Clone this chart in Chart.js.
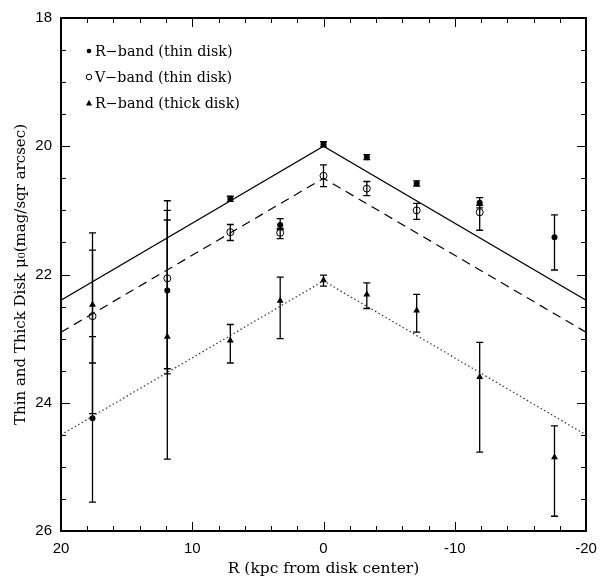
<!DOCTYPE html>
<html>
<head>
<meta charset="utf-8">
<script src="https://cdn.jsdelivr.net/npm/chart.js@4/dist/chart.umd.min.js"></script>
<style>
  body { margin: 0; background: #fff; }
  #wrap { width: 608px; height: 582px; }
</style>
</head>
<body>
<div id="wrap"><canvas id="myChart" width="608" height="582"></canvas></div>
<script>
// radius along the disk (kpc), same positions for every band
var radius = [17.6, 11.9, 7.1, 3.3, 0, -3.3, -7.1, -11.9, -17.6];

// R-band thin disk: value, lower and upper end of error bar
var rThin   = [24.24, 22.25, 20.82, 21.23, 19.97, 20.17, 20.58, 20.88, 21.42];
var rThinLo = [22.97, 21.00, 20.78, 21.13, 19.93, 20.13, 20.54, 20.80, 21.07];
var rThinHi = [25.55, 23.55, 20.86, 21.30, 20.01, 20.21, 20.62, 20.96, 21.93];

// V-band thin disk (no point at -17.6)
var vThin   = [22.65, 22.06, 21.34, 21.35, 20.46, 20.66, 21.00, 21.03, null];
var vThinLo = [21.62, 20.85, 21.22, 21.28, 20.29, 20.55, 20.89, 20.92, null];
var vThinHi = [24.17, 23.47, 21.47, 21.44, 20.63, 20.77, 21.14, 21.31, null];

// R-band thick disk
var rThick   = [22.47, 22.97, 23.03, 22.41, 22.09, 22.31, 22.56, 23.60, 24.85];
var rThickLo = [21.35, 21.15, 22.78, 22.04, 22.01, 22.13, 22.31, 23.06, 24.36];
var rThickHi = [23.38, 24.88, 23.38, 23.00, 22.18, 22.53, 22.90, 24.77, 25.77];

// model profiles: edge, center, edge
var modelR     = [20, 0, -20];
var modelRThin = [22.4, 20.0, 22.4];
var modelVThin = [22.9, 20.5, 22.9];
var modelThick = [24.5, 22.1, 24.5];

var legendLabels = ['R\u2212band (thin disk)', 'V\u2212band (thin disk)', 'R\u2212band (thick disk)'];

function pts(xs, ys) {
  var out = [];
  for (var i = 0; i < xs.length; i++) {
    if (ys[i] !== null) out.push({x: xs[i], y: ys[i]});
  }
  return out;
}

// error bars for the three point sets
var errorSets = [
  {lo: rThinLo, hi: rThinHi},
  {lo: vThinLo, hi: vThinHi},
  {lo: rThickLo, hi: rThickHi}
];

const errorBars = {
  id: 'errorBars',
  beforeDatasetsDraw(chart) {
    const ctx = chart.ctx;
    const xs = chart.scales.x, ys = chart.scales.y;
    ctx.save();
    ctx.strokeStyle = '#000';
    ctx.lineWidth = 1.3;
    errorSets.forEach(function(set) {
      for (var i = 0; i < radius.length; i++) {
        if (set.lo[i] === null) continue;
        var px = xs.getPixelForValue(radius[i]);
        var y1 = ys.getPixelForValue(set.lo[i]);
        var y2 = ys.getPixelForValue(set.hi[i]);
        ctx.beginPath();
        ctx.moveTo(px, y1); ctx.lineTo(px, y2);
        ctx.moveTo(px - 3.5, y1); ctx.lineTo(px + 3.5, y1);
        ctx.moveTo(px - 3.5, y2); ctx.lineTo(px + 3.5, y2);
        ctx.stroke();
      }
    });
    ctx.restore();
  }
};

// inward ticks on all four sides plus the frame
const frameTicks = {
  id: 'frameTicks',
  afterDraw(chart) {
    const ctx = chart.ctx;
    const a = chart.chartArea;
    const xs = chart.scales.x, ys = chart.scales.y;
    ctx.save();
    ctx.strokeStyle = '#000';
    ctx.lineWidth = 1;
    ctx.beginPath();
    for (var v = -20; v <= 20; v += 2) {
      var px = Math.round(xs.getPixelForValue(v)) + 0.5;
      var len = (v % 10 === 0) ? 9 : 5;
      ctx.moveTo(px, a.bottom); ctx.lineTo(px, a.bottom - len);
      ctx.moveTo(px, a.top); ctx.lineTo(px, a.top + len);
    }
    for (var w = 18; w <= 26; w += 0.5) {
      var py = Math.round(ys.getPixelForValue(w)) + 0.5;
      var l2 = (w % 2 === 0) ? 9 : 5;
      ctx.moveTo(a.left, py); ctx.lineTo(a.left + l2, py);
      ctx.moveTo(a.right, py); ctx.lineTo(a.right - l2, py);
    }
    ctx.stroke();
    ctx.lineWidth = 2;
    ctx.strokeRect(a.left, a.top, a.right - a.left, a.bottom - a.top);
    ctx.restore();
  }
};

// legend in the upper left corner of the plot
const cornerLegend = {
  id: 'cornerLegend',
  afterDraw(chart) {
    const ctx = chart.ctx;
    const a = chart.chartArea;
    ctx.save();
    ctx.fillStyle = '#000';
    ctx.strokeStyle = '#000';
    ctx.font = '14.3px "DejaVu Serif"';
    ctx.textBaseline = 'middle';
    for (var i = 0; i < legendLabels.length; i++) {
      var cy = a.top + 33 + i * 26;
      var cx = a.left + 28;
      ctx.beginPath();
      if (i === 0) {
        ctx.arc(cx, cy, 2.3, 0, Math.PI * 2); ctx.fill();
      } else if (i === 1) {
        ctx.lineWidth = 1;
        ctx.arc(cx, cy, 2.8, 0, Math.PI * 2); ctx.stroke();
      } else {
        ctx.moveTo(cx, cy - 3.2); ctx.lineTo(cx + 3, cy + 2.4); ctx.lineTo(cx - 3, cy + 2.4);
        ctx.closePath(); ctx.fill();
      }
      ctx.fillText(legendLabels[i], cx + 6, cy + 1);
    }
    ctx.restore();
  }
};

const ctx = document.getElementById('myChart');
var myChart = new Chart(ctx, {
  type: 'scatter',
  data: {
    datasets: [
      {
        label: 'model R thin',
        data: pts(modelR, modelRThin),
        showLine: true, borderColor: '#000', borderWidth: 1.2, pointRadius: 0, fill: false
      },
      {
        label: 'model V thin',
        data: pts(modelR, modelVThin),
        showLine: true, borderColor: '#000', borderWidth: 1.2, borderDash: [9, 6], pointRadius: 0, fill: false
      },
      {
        label: 'model thick',
        data: pts(modelR, modelThick),
        showLine: true, borderColor: '#333', borderWidth: 1.2, borderDash: [1.5, 2.5], pointRadius: 0, fill: false
      },
      {
        label: legendLabels[0],
        data: pts(radius, rThin),
        pointStyle: 'circle', pointRadius: 3, backgroundColor: '#000', borderColor: '#000', borderWidth: 0
      },
      {
        label: legendLabels[1],
        data: pts(radius, vThin),
        pointStyle: 'circle', pointRadius: 3.5, backgroundColor: 'rgba(0,0,0,0)', borderColor: '#000', borderWidth: 1
      },
      {
        label: legendLabels[2],
        data: pts(radius, rThick),
        pointStyle: 'triangle', pointRadius: 4, backgroundColor: '#000', borderColor: '#000', borderWidth: 0
      }
    ]
  },
  options: {
    responsive: false,
    animation: false,
    layout: { padding: { top: 9, right: 22, left: 0, bottom: 0 } },
    plugins: {
      legend: { display: false },
      tooltip: { enabled: false }
    },
    scales: {
      x: {
        type: 'linear', min: -20, max: 20, reverse: true,
        ticks: { stepSize: 10, color: '#000', padding: 9, font: { family: 'Liberation Sans', size: 15 } },
        grid: { drawOnChartArea: false, drawTicks: false },
        border: { display: false },
        title: { display: true, text: 'R (kpc from disk center)', color: '#000',
                 font: { family: 'DejaVu Serif', size: 15.5 }, padding: { top: 0, bottom: 4 } },
        afterFit: function(s) { s.height = 51; }
      },
      y: {
        type: 'linear', min: 18, max: 26, reverse: true,
        ticks: { stepSize: 2, color: '#000', padding: 9, font: { family: 'Liberation Sans', size: 15 } },
        grid: { drawOnChartArea: false, drawTicks: false },
        border: { display: false },
        title: { display: true, text: 'Thin and Thick Disk \u03bc\u2080(mag/sqr arcsec)', color: '#000',
                 font: { family: 'DejaVu Serif', size: 15 }, padding: { top: 12, bottom: 0 } },
        afterFit: function(s) { s.width = 61; }
      }
    }
  },
  plugins: [errorBars, frameTicks, cornerLegend]
});
</script>
</body>
</html>
